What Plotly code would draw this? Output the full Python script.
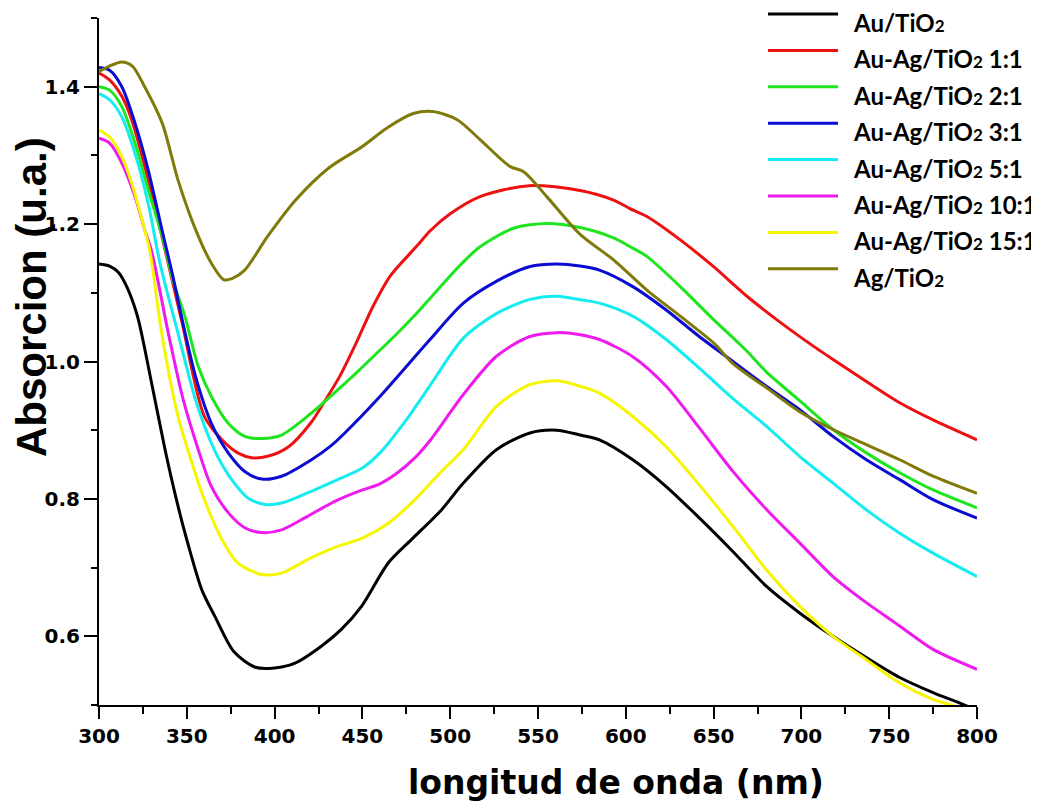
import plotly.graph_objects as go

# ---------------- data ----------------
x_au = [300, 306, 311, 316, 322, 330, 337.6, 344, 349, 358.5, 366, 377, 389, 400, 411.6, 426.8, 438,
        449.6, 464.8, 478, 495, 507.5, 526.5, 545.4, 560.6, 574, 585, 604, 623, 642, 660, 680, 699,
        718, 737, 756, 775, 792, 800]
y_au = [1.142, 1.139, 1.130, 1.108, 1.065, 0.968, 0.872, 0.800, 0.750, 0.668, 0.629, 0.577, 0.555,
        0.554, 0.561, 0.586, 0.610, 0.644, 0.707, 0.741, 0.784, 0.823, 0.872, 0.896, 0.900, 0.893,
        0.886, 0.857, 0.818, 0.772, 0.726, 0.673, 0.634, 0.600, 0.569, 0.540, 0.518, 0.501, 0.492]

x_r11 = [300, 306, 313, 318.6, 328, 336, 347, 360, 370, 379, 387, 396, 408, 421, 428, 437, 447, 456,
         466, 481, 488.5, 500, 517, 545, 574, 593, 602, 612, 631, 650, 669, 688, 707, 718, 737, 756,
         775, 800]
y_r11 = [1.420, 1.410, 1.386, 1.352, 1.265, 1.180, 1.060, 0.920, 0.886, 0.867, 0.860, 0.862, 0.876,
         0.912, 0.940, 0.978, 1.030, 1.080, 1.125, 1.168, 1.190, 1.215, 1.240, 1.256, 1.249, 1.235,
         1.223, 1.211, 1.177, 1.138, 1.095, 1.057, 1.022, 1.003, 0.971, 0.940, 0.915, 0.886]

x_r21 = [300, 306, 313, 320.5, 328, 336, 342, 349, 356.5, 364, 373.6, 383, 392.6, 404, 421, 443, 450,
         469.5, 479, 498, 507.5, 517, 536, 555, 574, 593, 604, 612, 631, 650, 669, 680, 699, 718, 737,
         756, 775, 800]
y_r21 = [1.400, 1.395, 1.371, 1.318, 1.250, 1.182, 1.119, 1.065, 0.993, 0.949, 0.910, 0.891, 0.888,
         0.893, 0.925, 0.975, 0.992, 1.040, 1.065, 1.119, 1.145, 1.167, 1.194, 1.201, 1.195, 1.180,
         1.165, 1.153, 1.109, 1.061, 1.015, 0.985, 0.943, 0.901, 0.867, 0.838, 0.813, 0.787]

x_r31 = [300, 306, 313, 320.5, 328, 336, 342, 347, 355, 364, 373.6, 383, 392.6, 404, 421, 431.5, 440,
         460, 488.5, 507.5, 526.5, 545, 561, 574, 585, 604, 623, 642, 661, 680, 699, 718, 737, 756,
         775, 800]
y_r31 = [1.428, 1.424, 1.400, 1.347, 1.279, 1.190, 1.125, 1.065, 0.978, 0.910, 0.867, 0.840, 0.829,
         0.833, 0.857, 0.876, 0.896, 0.949, 1.032, 1.085, 1.117, 1.138, 1.142, 1.139, 1.133, 1.109,
         1.075, 1.036, 1.000, 0.964, 0.930, 0.891, 0.857, 0.828, 0.799, 0.772]

x_r51 = [300, 306, 313, 320.5, 328, 335, 345, 355, 364, 370, 377, 385, 394.5, 404, 419, 434, 450, 460,
         475, 488.5, 507.5, 526.5, 545, 561, 574, 585, 604, 623, 642, 661, 680, 699, 718, 737, 756,
         775, 800]
y_r51 = [1.390, 1.381, 1.356, 1.303, 1.230, 1.140, 1.041, 0.944, 0.881, 0.850, 0.823, 0.801, 0.792,
         0.794, 0.809, 0.826, 0.845, 0.867, 0.915, 0.965, 1.034, 1.070, 1.090, 1.095, 1.090, 1.085,
         1.066, 1.032, 0.990, 0.946, 0.906, 0.862, 0.823, 0.784, 0.750, 0.721, 0.687]

x_r101 = [300, 306, 313, 320.5, 326, 330, 339.5, 348, 356.5, 364, 373.6, 383, 392.6, 404, 419, 434,
          450, 460, 470, 480, 488.5, 507.5, 526.5, 545, 561, 574, 585, 604, 623, 642, 661, 680, 699,
          718, 737, 756, 775, 800]
y_r101 = [1.325, 1.318, 1.289, 1.240, 1.192, 1.160, 1.041, 0.944, 0.872, 0.818, 0.780, 0.758, 0.751,
          0.755, 0.775, 0.796, 0.813, 0.822, 0.838, 0.860, 0.885, 0.952, 1.008, 1.036, 1.042, 1.039,
          1.032, 1.007, 0.964, 0.903, 0.840, 0.785, 0.736, 0.687, 0.649, 0.615, 0.581, 0.552]

x_r151 = [300, 306, 313, 318.6, 324, 329, 335.7, 345, 352, 360, 370, 379, 392.6, 404, 419, 434, 450,
          465, 480, 495, 507.5, 526.5, 545, 561, 574, 585, 604, 623, 642, 661, 680, 699, 718, 737,
          756, 775, 785, 800]
y_r151 = [1.337, 1.327, 1.298, 1.260, 1.211, 1.160, 1.041, 0.920, 0.860, 0.799, 0.741, 0.707, 0.690,
          0.692, 0.712, 0.729, 0.743, 0.765, 0.799, 0.840, 0.872, 0.935, 0.966, 0.972, 0.964, 0.954,
          0.920, 0.876, 0.820, 0.760, 0.697, 0.644, 0.600, 0.566, 0.532, 0.508, 0.500, 0.485]

x_ag = [300, 306, 313, 319, 326, 336, 345, 355, 364, 371, 376, 383, 396, 412, 431, 450, 464, 479, 490,
        504, 517, 534, 542, 555, 574, 593, 612, 631, 650, 661, 680, 699, 718, 737, 756, 775, 800]
y_ag = [1.422, 1.430, 1.436, 1.430, 1.400, 1.347, 1.264, 1.192, 1.143, 1.119, 1.121, 1.133, 1.182,
        1.235, 1.282, 1.313, 1.340, 1.361, 1.364, 1.352, 1.323, 1.284, 1.276, 1.240, 1.185, 1.148,
        1.104, 1.066, 1.027, 0.997, 0.962, 0.927, 0.901, 0.879, 0.857, 0.833, 0.808]

SUB = "<span style='font-size:17px'>2</span>"
names = ["Au/TiO" + SUB,
         "Au-Ag/TiO" + SUB + " 1:1",
         "Au-Ag/TiO" + SUB + " 2:1",
         "Au-Ag/TiO" + SUB + " 3:1",
         "Au-Ag/TiO" + SUB + " 5:1",
         "Au-Ag/TiO" + SUB + " 10:1",
         "Au-Ag/TiO" + SUB + " 15:1",
         "Ag/TiO" + SUB]
colors = ["#000000", "#ee1111", "#1fe51f", "#0b0bd2", "#14ecef", "#ee1aee", "#f6f600", "#7f7a0a"]
xs = [x_au, x_r11, x_r21, x_r31, x_r51, x_r101, x_r151, x_ag]
ys = [y_au, y_r11, y_r21, y_r31, y_r51, y_r101, y_r151, y_ag]

# ---------------- geometry ----------------
W, H = 1031, 793          # the page body adds an 8px offset; figure sized to compensate
ML, MR, MT, MB = 91, 62, 10, 96
PW, PH = W - ML - MR, H - MT - MB
OFF = 8


def px_to_paper_x(page_x):
    return (page_x - OFF - ML) / PW


def px_to_paper_y(page_y):
    return 1 - (page_y - OFF - MT) / PH


fig = go.Figure()
for xv, yv, nm, c in zip(xs, ys, names, colors):
    fig.add_trace(go.Scatter(
        x=xv, y=yv, name=nm, mode="lines", showlegend=False,
        line=dict(color=c, width=3, shape="spline", smoothing=0.8),
    ))

# legend drawn as line swatches + text (layout only)
LEG_X0, LEG_X1, LEG_TX = 768, 838, 851
LEG_Y0, LEG_DY, TXT_DY = 14, 36.4, 8.5
shapes, annotations = [], []
for i, (nm, c) in enumerate(zip(names, colors)):
    yy = LEG_Y0 + i * LEG_DY
    shapes.append(dict(type="line", xref="paper", yref="paper",
                       x0=px_to_paper_x(LEG_X0), x1=px_to_paper_x(LEG_X1),
                       y0=px_to_paper_y(yy), y1=px_to_paper_y(yy),
                       line=dict(color=c, width=3)))
    annotations.append(dict(text=nm, xref="paper", yref="paper",
                            x=px_to_paper_x(LEG_TX), y=px_to_paper_y(yy + TXT_DY),
                            xanchor="left", yanchor="middle", showarrow=False,
                            font=dict(family="Lato", size=24, color="black", weight="bold")))

annotations.append(dict(text="longitud de onda (nm)", xref="paper", yref="paper",
                        x=px_to_paper_x(616), y=px_to_paper_y(782),
                        xanchor="center", yanchor="middle", showarrow=False,
                        font=dict(family="DejaVu Sans", size=33, color="black", weight="bold")))
annotations.append(dict(text="Absorcion (u.a.)", xref="paper", yref="paper",
                        x=px_to_paper_x(32), y=px_to_paper_y(297),
                        xanchor="center", yanchor="middle", textangle=-90, showarrow=False,
                        font=dict(family="Liberation Sans", size=42, color="black", weight="bold")))

tickfont = dict(family="DejaVu Sans", size=20, color="black", weight="bold")

fig.update_layout(
    width=W, height=H,
    margin=dict(l=ML, r=MR, t=MT, b=MB, autoexpand=False),
    paper_bgcolor="white", plot_bgcolor="white",
    showlegend=False,
    xaxis=dict(
        range=[300, 800], showgrid=False, zeroline=False,
        showline=True, linecolor="black", linewidth=2,
        ticks="outside", ticklen=12, tickwidth=2, tickcolor="black",
        tick0=300, dtick=50,
        minor=dict(ticks="outside", ticklen=7, tickwidth=2, tickcolor="black", dtick=25),
        tickfont=tickfont, automargin=False,
    ),
    yaxis=dict(
        range=[0.5, 1.5], showgrid=False, zeroline=False,
        showline=True, linecolor="black", linewidth=2,
        ticks="outside", ticklen=13, tickwidth=2, tickcolor="black",
        tick0=0.6, dtick=0.2, tickformat=".1f",
        minor=dict(ticks="outside", ticklen=6, tickwidth=2, tickcolor="black", dtick=0.1),
        tickfont=tickfont, automargin=False,
    ),
    shapes=shapes,
    annotations=annotations,
)

fig.write_html("out.html")
